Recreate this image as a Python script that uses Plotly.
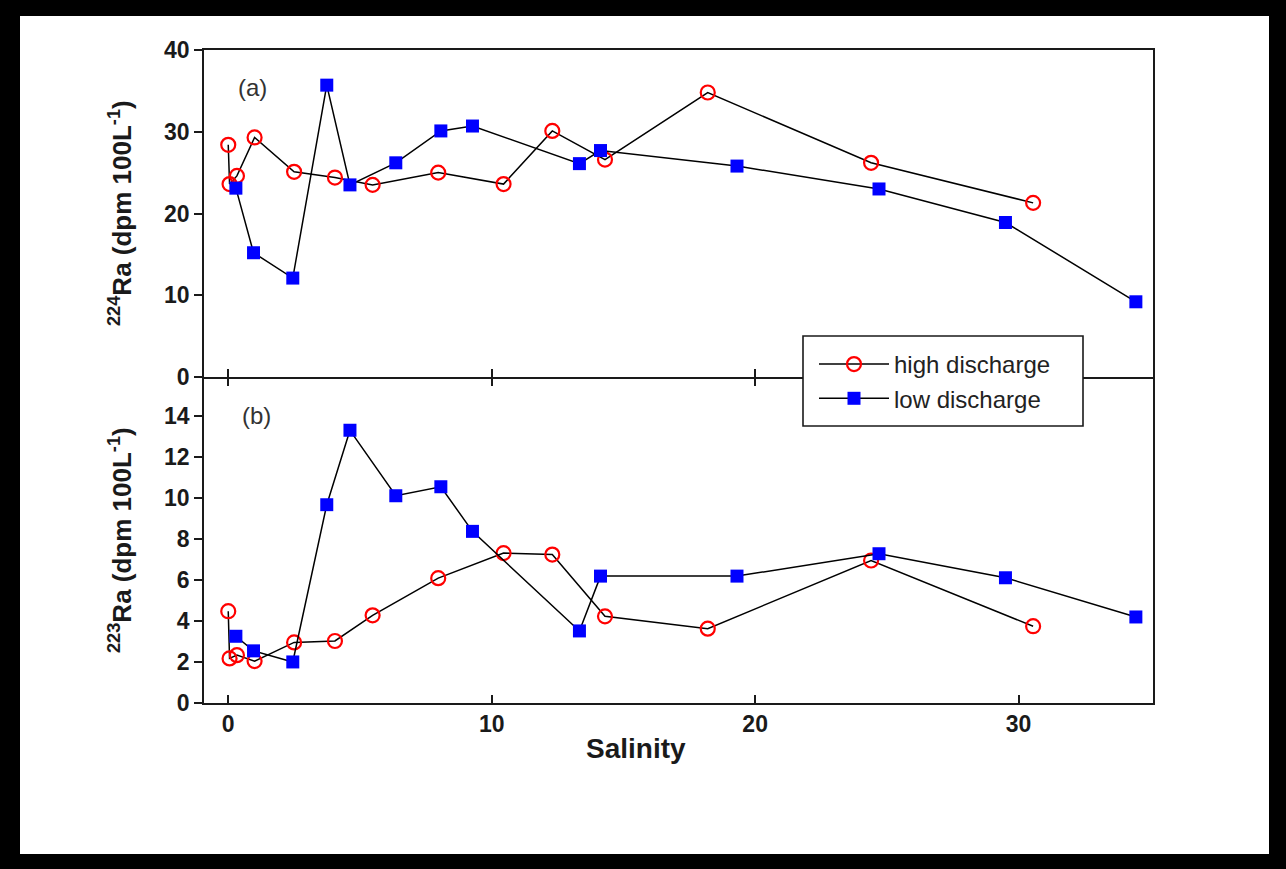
import plotly.graph_objects as go

# Salinity of each sample, per survey
high_salinity = [0.0, 0.05, 0.33, 1.0, 2.5, 4.05, 5.48, 7.97, 10.45, 12.3, 14.3, 18.2, 24.4, 30.55]
low_salinity = [0.29, 0.96, 2.45, 3.74, 4.62, 6.36, 8.07, 9.27, 13.33, 14.13, 19.31, 24.7, 29.5, 34.45]

# 224Ra activities (dpm 100L-1)
high_ra224 = [28.4, 23.6, 24.6, 29.3, 25.1, 24.4, 23.5, 25.0, 23.6, 30.1, 26.6, 34.8, 26.2, 21.3]
low_ra224 = [23.1, 15.2, 12.1, 35.7, 23.5, 26.2, 30.1, 30.7, 26.1, 27.7, 25.8, 23.0, 18.9, 9.2]

# 223Ra activities (dpm 100L-1)
high_ra223 = [4.47, 2.17, 2.33, 2.04, 2.95, 3.02, 4.27, 6.08, 7.30, 7.23, 4.22, 3.62, 6.94, 3.74]
low_ra223 = [3.25, 2.54, 2.0, 9.66, 13.28, 10.1, 10.53, 8.36, 3.51, 6.18, 6.18, 7.27, 6.1, 4.19]

series_names = ["high discharge", "low discharge"]
x_ticks = [0, 10, 20, 30]
ra224_ticks = [0, 10, 20, 30, 40]
ra223_ticks = [0, 2, 4, 6, 8, 10, 12, 14]

W, H = 1286, 869
ML, MR, MT, MB = 204, 133, 50, 166
PW, PH = W - ML - MR, H - MT - MB


def px_x(p):
    return (p - ML) / PW


def px_y(p):
    return (H - MB - p) / PH


FONT = "Liberation Sans, Arial, sans-serif"
INK = "#1a1a1a"
LW = 1.6
mid = px_y(377)
# axis lines sit just outside their domain, so the lower panel stops a line-width
# short of the upper one and both share a single divider line
mid_low = mid - LW / PH

high_style = dict(mode="lines+markers", line=dict(color="black", width=1.5),
                  marker=dict(symbol="circle-open", size=14, color="#ff0000",
                              line=dict(width=2.2, color="#ff0000")))
low_style = dict(mode="lines+markers", line=dict(color="black", width=1.5),
                 marker=dict(symbol="square", size=13, color="#0000ff",
                             line=dict(width=0)))

fig = go.Figure()
fig.add_trace(go.Scatter(x=high_salinity, y=high_ra224, name=series_names[0],
                         legendgroup="h", xaxis="x2", yaxis="y2", **high_style))
fig.add_trace(go.Scatter(x=low_salinity, y=low_ra224, name=series_names[1],
                         legendgroup="l", xaxis="x2", yaxis="y2", **low_style))
fig.add_trace(go.Scatter(x=high_salinity, y=high_ra223, name=series_names[0],
                         legendgroup="h", showlegend=False, xaxis="x", yaxis="y", **high_style))
fig.add_trace(go.Scatter(x=low_salinity, y=low_ra223, name=series_names[1],
                         legendgroup="l", showlegend=False, xaxis="x", yaxis="y", **low_style))

xr = [-0.92, 35.1]
axis_common = dict(showline=True, linecolor=INK, linewidth=LW, showgrid=False,
                   zeroline=False, tickcolor=INK, tickwidth=1.5, ticklen=8)

fig.update_layout(
    width=W, height=H,
    margin=dict(l=ML, r=MR, t=MT, b=MB),
    paper_bgcolor="black",
    plot_bgcolor="rgba(0,0,0,0)",
    font=dict(family=FONT, color=INK),
    xaxis=dict(domain=[0, 1], anchor="y", range=xr, tickvals=x_ticks,
               ticks="inside", mirror="ticks",
               tickfont=dict(size=23, family=FONT, weight="bold"), **axis_common),
    xaxis2=dict(domain=[0, 1], anchor="y2", range=xr, tickvals=x_ticks,
                matches="x", ticks="inside", mirror=True, showticklabels=False,
                **axis_common),
    yaxis=dict(domain=[0, mid_low], anchor="x", range=[0, 15.8], tickvals=ra223_ticks,
               ticks="outside", mirror=True,
               tickfont=dict(size=23, family=FONT, weight="bold"), **axis_common),
    yaxis2=dict(domain=[mid, 1], anchor="x2", range=[0, 40], tickvals=ra224_ticks,
                ticks="outside", mirror=True,
                tickfont=dict(size=23, family=FONT, weight="bold"), **axis_common),
    showlegend=True,
    legend=dict(x=px_x(814), y=px_y(342), xanchor="left", yanchor="top",
                bgcolor="rgba(0,0,0,0)", borderwidth=0, itemwidth=70,
                font=dict(size=24, family=FONT, color="#222"), tracegroupgap=0),
    shapes=[
        # white page inside the black frame
        dict(type="rect", xref="paper", yref="paper", layer="below",
             x0=px_x(20), x1=px_x(1269), y0=px_y(854), y1=px_y(16),
             fillcolor="white", line=dict(width=0)),
        # legend box
        dict(type="rect", xref="paper", yref="paper", layer="above",
             x0=px_x(803), x1=px_x(1083), y0=px_y(426), y1=px_y(336),
             fillcolor="white", line=dict(color=INK, width=1.6)),
    ],
    annotations=[
        dict(text="<b><sup>224</sup>Ra (dpm 100L<sup>-1</sup>)</b>", textangle=-90,
             xref="paper", yref="paper", x=px_x(120), y=px_y(213), showarrow=False,
             xanchor="center", yanchor="middle", font=dict(size=26, family=FONT)),
        dict(text="<b><sup>223</sup>Ra (dpm 100L<sup>-1</sup>)</b>", textangle=-90,
             xref="paper", yref="paper", x=px_x(120), y=px_y(540), showarrow=False,
             xanchor="center", yanchor="middle", font=dict(size=26, family=FONT)),
        dict(text="<b>Salinity</b>", xref="paper", yref="paper", x=px_x(636), y=px_y(749),
             showarrow=False, xanchor="center", yanchor="middle",
             font=dict(size=28, family=FONT)),
        dict(text="(a)", xref="paper", yref="paper", x=px_x(252), y=px_y(88),
             showarrow=False, xanchor="center", yanchor="middle",
             font=dict(size=24, family=FONT, color="#333")),
        dict(text="(b)", xref="paper", yref="paper", x=px_x(256), y=px_y(415),
             showarrow=False, xanchor="center", yanchor="middle",
             font=dict(size=24, family=FONT, color="#333")),
    ],
)

fig.write_html("out.html")
